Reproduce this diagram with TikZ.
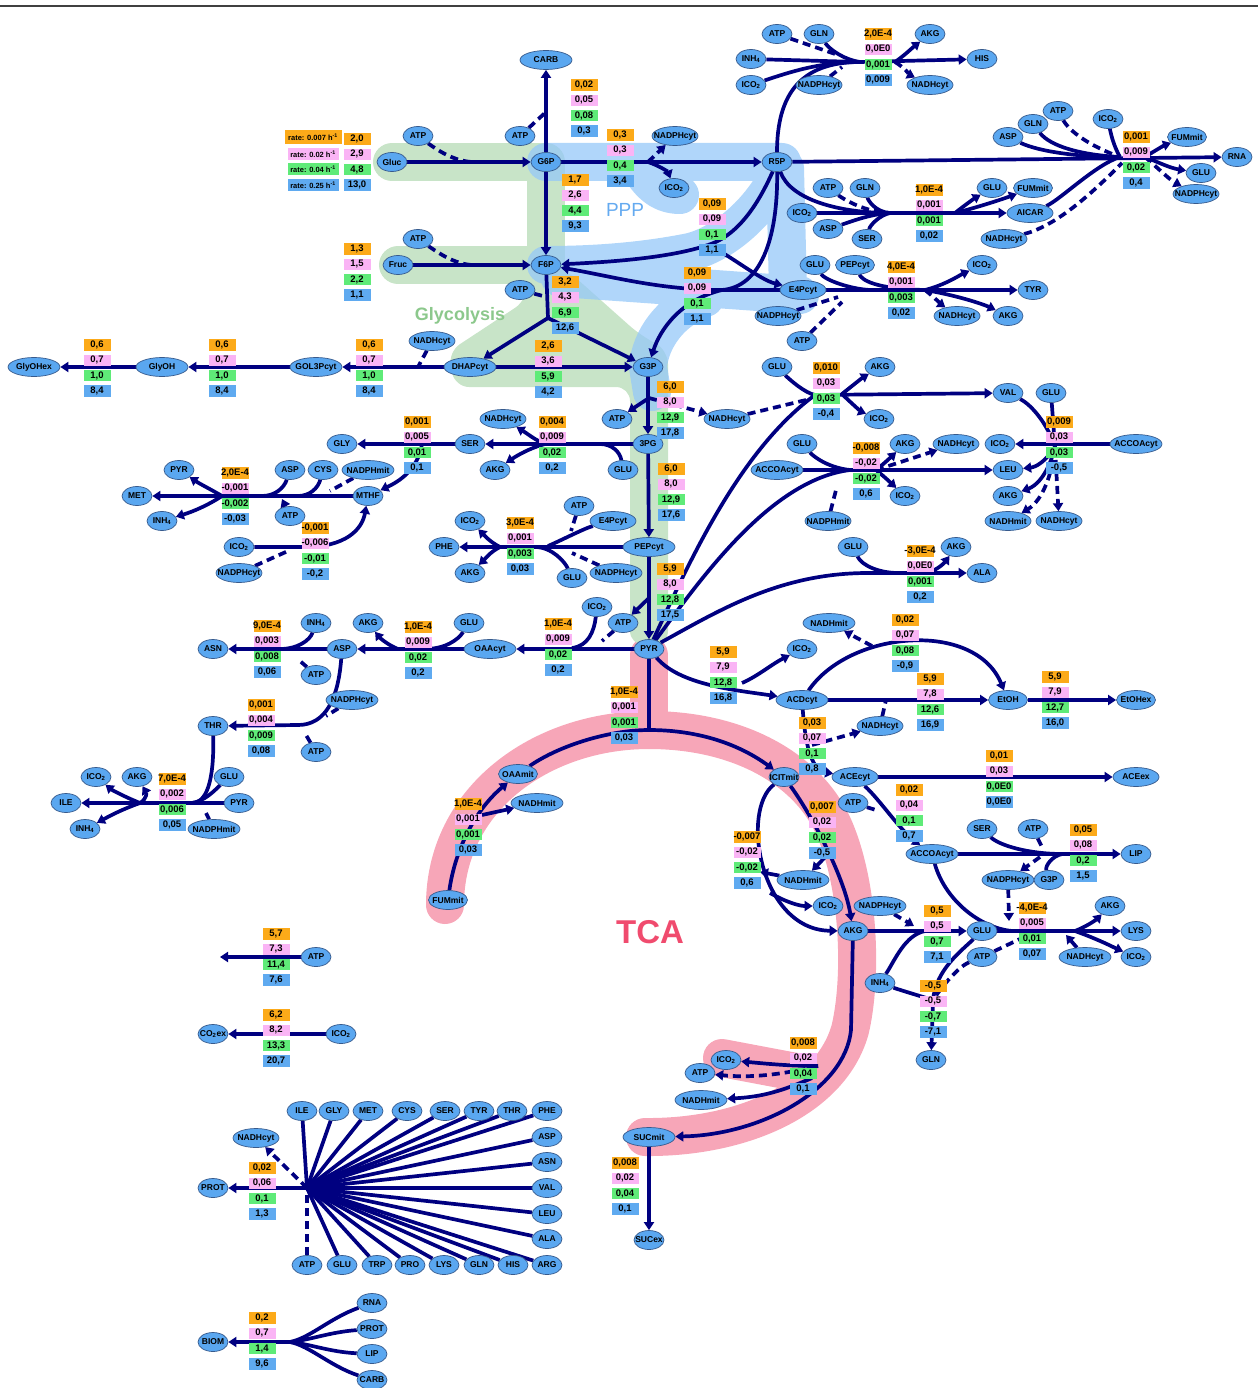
\documentclass[tikz,border=0pt]{standalone}
\usepackage{fontspec}
\setmainfont{Liberation Sans}
\usetikzlibrary{arrows.meta,shapes.geometric}
\definecolor{flx}{RGB}{0,0,128}
\definecolor{metf}{RGB}{90,167,240}
\definecolor{metb}{RGB}{55,90,140}
\definecolor{co}{RGB}{252,170,25}
\definecolor{cp}{RGB}{250,180,245}
\definecolor{cg}{RGB}{95,235,120}
\definecolor{cb}{RGB}{95,170,240}
\definecolor{gband}{RGB}{200,228,200}
\definecolor{bband}{RGB}{150,200,248}
\definecolor{pband}{RGB}{247,166,184}
\definecolor{gtext}{RGB}{140,200,140}
\definecolor{btext}{RGB}{100,170,240}
\definecolor{ptext}{RGB}{240,75,110}
\pgfdeclarelayer{bg}
\pgfdeclarelayer{edges}
\pgfsetlayers{bg,edges,main}
\tikzset{
 met/.style={ellipse,draw=metb,fill=metf,line width=0.7pt,minimum width=30pt,minimum height=19pt,inner sep=0pt,font=\bfseries\fontsize{8.5}{9}\selectfont},
 m4/.style={minimum width=39pt},
 m5/.style={minimum width=46pt},
 m6/.style={minimum width=52pt},
 vbox/.style={rectangle,minimum width=27pt,minimum height=11.5pt,inner sep=0pt,font=\bfseries\fontsize{9.5}{9.5}\selectfont},
 ratebox/.style={rectangle,minimum width=51pt,minimum height=12pt,inner sep=0pt,font=\bfseries\fontsize{7.5}{8}\selectfont},
 flux/.style={draw=flx,line width=3.7pt},
 fluxa/.style={flux,-{Triangle[length=8pt,width=10pt]}},
 fluxd/.style={flux,dash pattern=on 8pt off 5pt},
 fluxda/.style={fluxd,-{Triangle[length=8pt,width=10pt]}},
 band/.style={line width=38pt,line cap=round,line join=round},
}
\newcommand\mnode[5][]{\node[met,#1] (#2) at (#3,#4) {\makebox[0pt]{#5}};}
\newcommand\vstack[7]{%
 \node[vbox,fill=co] (#1a) at (#2,#3) {\makebox[0pt]{#4}};
 \node[vbox,fill=cp] (#1b) at (#2,#3+15.3) {\makebox[0pt]{#5}};
 \node[vbox,fill=cg] (#1c) at (#2,#3+30.6) {\makebox[0pt]{#6}};
 \node[vbox,fill=cb] (#1d) at (#2,#3+45.9) {\makebox[0pt]{#7}};}
\newcommand\ico{ICO\textsubscript{2}}
\newcommand\inh{INH\textsubscript{4}}
\begin{document}
\begin{tikzpicture}[x=1pt,y=-1pt]
\useasboundingbox (0,0) rectangle (1258,1388);
\draw[line width=2pt,black!75] (0,6) -- (1258,6);
% ---------------- background bands
\begin{pgfonlayer}{bg}
\draw[band,draw=pband] (649,655) -- (649,730);
\draw[band,draw=pband] (445,905) .. controls (445,800) and (540,730) .. (649,730) .. controls (740,730) and (810,770) .. (835,830) .. controls (860,890) and (862,980) .. (850,1030) .. controls (830,1100) and (740,1138) .. (645,1137);
\draw[band,draw=pband] (812,1075) -- (722,1058);
\draw[band,draw=gband] (392,162) -- (546,162) -- (546,265);
\draw[band,draw=gband] (398,265) -- (546,265);
\fill[gband,rounded corners=14pt] (527,270) -- (567,270) -- (640,335) -- (668,350) -- (668,645) -- (630,645) -- (630,387) -- (455,387) -- (448,352) -- (527,300) -- cycle;
\draw[band,draw=bband,opacity=.75] (546,162) -- (782,162)
 (640,168) .. controls (650,185) and (662,195) .. (680,195)
 (782,168) .. controls (760,215) and (720,245) .. (690,252) .. controls (640,262) and (590,265) .. (546,265)
 (560,278) -- (800,295)
 (785,168) -- (788,292)
 (705,298) .. controls (670,310) and (650,340) .. (648,367) -- (652,392);
\end{pgfonlayer}
\node[text=btext,font=\fontsize{19}{19}\selectfont] (tPPP) at (625,210) {PPP};
\node[text=gtext,font=\bfseries\fontsize{18}{18}\selectfont] (tGly) at (460,316) {Glycolysis};
\node[text=ptext,font=\bfseries\fontsize{33}{33}\selectfont] (tTCA) at (650,932) {TCA};
% ---------------- metabolites
\mnode[m6]{CARB}{546}{60}{CARB}
\mnode{ATPa}{418}{136}{ATP}
\mnode{ATPb}{520}{136}{ATP}
\mnode{Gluc}{392}{162}{Gluc}
\mnode{G6P}{546}{162}{G6P}
\mnode[m5]{NADPHa}{675}{136}{NADPHcyt}
\mnode{ICOa}{674}{188}{\ico}
\mnode{R5P}{777}{162}{R5P}
\mnode{ATPc}{418}{239}{ATP}
\mnode{Fruc}{398}{265}{Fruc}
\mnode{F6P}{546}{265}{F6P}
\mnode{ATPd}{520}{290}{ATP}
\mnode[m5]{E4Pa}{803}{290}{E4Pcyt}
\mnode[m5]{NADPHb}{778}{316}{NADPHcyt}
\mnode{ATPe}{802}{341}{ATP}
\mnode[m5]{NADHa}{432}{341}{NADHcyt}
\mnode[m6]{DHAP}{470}{367}{DHAPcyt}
\mnode{G3P}{648}{367}{G3P}
\mnode[m6]{GOL3P}{316}{367}{GOL3Pcyt}
\mnode[m6]{GlyOH}{162}{367}{GlyOH}
\mnode[m6]{GlyOHex}{34}{367}{GlyOHex}
\mnode{ATPf}{777}{34}{ATP}
\mnode{GLNa}{819}{34}{GLN}
\mnode{INHa}{751}{59}{\inh}
\mnode{ICOb}{751}{85}{\ico}
\mnode[m5]{NADPHc}{819}{85}{NADPHcyt}
\mnode{AKGa}{930}{34}{AKG}
\mnode{HIS}{982}{59}{HIS}
\mnode[m5]{NADHb}{930}{85}{NADHcyt}
\mnode{ATPg}{1058}{111}{ATP}
\mnode{GLNb}{1033}{124}{GLN}
\mnode{ASPa}{1008}{137}{ASP}
\mnode{ICOc}{1108}{119}{\ico}
\mnode[m4]{FUMa}{1187}{137}{FUMmit}
\mnode{RNAa}{1237}{157}{RNA}
\mnode{GLUa}{1201}{173}{GLU}
\mnode[m5]{NADPHd}{1196}{194}{NADPHcyt}
\mnode{ATPh}{828}{188}{ATP}
\mnode{GLNc}{865}{188}{GLN}
\mnode{ICOd}{802}{213}{\ico}
\mnode{ASPb}{828}{229}{ASP}
\mnode{SERa}{867}{239}{SER}
\mnode{GLUb}{992}{188}{GLU}
\mnode[m4]{FUMb}{1033}{188}{FUMmit}
\mnode[m5]{AICAR}{1030}{213}{AICAR}
\mnode[m5]{NADHc}{1004}{239}{NADHcyt}
\mnode{GLUc}{815}{265}{GLU}
\mnode[m4]{PEPa}{855}{265}{PEPcyt}
\mnode{ICOe}{982}{265}{\ico}
\mnode{TYR}{1033}{290}{TYR}
\mnode[m5]{NADHd}{957}{316}{NADHcyt}
\mnode{AKGb}{1008}{316}{AKG}
\mnode{GLUd}{777}{367}{GLU}
\mnode{AKGc}{880}{367}{AKG}
\mnode{ICOf}{879}{419}{\ico}
\mnode{VAL}{1008}{393}{VAL}
\mnode{GLUe}{1051}{393}{GLU}
\mnode{ICOg}{1000}{444}{\ico}
\mnode[m6]{ACCOAa}{1136}{444}{ACCOAcyt}
\mnode{LEU}{1008}{470}{LEU}
\mnode{AKGd}{1008}{496}{AKG}
\mnode[m5]{NADHmA}{1008}{521}{NADHmit}
\mnode[m5]{NADHe}{1059}{521}{NADHcyt}
\mnode{GLUf}{802}{444}{GLU}
\mnode[m6]{ACCOAb}{777}{470}{ACCOAcyt}
\mnode[m5]{NADPHmA}{828}{521}{NADPHmit}
\mnode{AKGe}{905}{444}{AKG}
\mnode[m5]{NADHf}{956}{444}{NADHcyt}
\mnode{ICOh}{905}{496}{\ico}
\mnode{ATPi}{617}{419}{ATP}
\mnode[m5]{NADHg}{727}{419}{NADHcyt}
\mnode{PG3}{648}{444}{3PG}
\mnode{SERb}{470}{444}{SER}
\mnode{GLYa}{342}{444}{GLY}
\mnode[m5]{NADHh}{503}{419}{NADHcyt}
\mnode{AKGf}{495}{470}{AKG}
\mnode{GLUg}{623}{470}{GLU}
\mnode{PYRa}{179}{470}{PYR}
\mnode{ASPc}{290}{470}{ASP}
\mnode{CYSa}{323}{470}{CYS}
\mnode[m6]{NADPHmB}{368}{470}{NADPHmit}
\mnode{METa}{137}{496}{MET}
\mnode{MTHF}{368}{496}{MTHF}
\mnode{INHb}{162}{521}{\inh}
\mnode{ATPj}{290}{516}{ATP}
\mnode{ICOi}{239}{547}{\ico}
\mnode[m5]{NADPHe}{239}{573}{NADPHcyt}
\mnode{ATPk}{579}{506}{ATP}
\mnode[m5]{E4Pb}{613}{521}{E4Pcyt}
\mnode{ICOj}{470}{521}{\ico}
\mnode{PHE}{444}{547}{PHE}
\mnode{AKGg}{470}{573}{AKG}
\mnode{GLUh}{572}{578}{GLU}
\mnode[m6]{NADPHf}{616}{573}{NADPHcyt}
\mnode[m6]{PEPb}{649}{547}{PEPcyt}
\mnode{GLUi}{853}{547}{GLU}
\mnode{AKGh}{956}{547}{AKG}
\mnode{ALA}{982}{573}{ALA}
\mnode{ICOk}{597}{607}{\ico}
\mnode{ATPl}{623}{623}{ATP}
\mnode{PYR}{649}{649}{PYR}
\mnode[m6]{OAAcyt}{490}{649}{OAAcyt}
\mnode{GLUj}{469}{623}{GLU}
\mnode{ASPd}{342}{649}{ASP}
\mnode{AKGi}{368}{623}{AKG}
\mnode{INHc}{316}{623}{\inh}
\mnode{ASN}{213}{649}{ASN}
\mnode{ATPm}{316}{675}{ATP}
\mnode[m6]{NADPHg}{352}{700}{NADPHcyt}
\mnode{THR}{213}{726}{THR}
\mnode{ATPn}{316}{752}{ATP}
\mnode{ICOl}{96}{777}{\ico}
\mnode{AKGj}{137}{777}{AKG}
\mnode{GLUk}{229}{777}{GLU}
\mnode{ILE}{66}{803}{ILE}
\mnode{PYRb}{239}{803}{PYR}
\mnode{INHd}{85}{829}{\inh}
\mnode[m6]{NADPHmC}{214}{829}{NADPHmit}
\mnode[m6]{NADHmB}{829}{623}{NADHmit}
\mnode{ICOm}{802}{649}{\ico}
\mnode[m6]{ACD}{802}{700}{ACDcyt}
\mnode[m4]{EtOH}{1008}{700}{EtOH}
\mnode[m4]{EtOHex}{1136}{700}{EtOHex}
\mnode[m5]{NADHi}{880}{726}{NADHcyt}
\mnode[m5]{ACE}{855}{777}{ACEcyt}
\mnode[m5]{ACEex}{1136}{777}{ACEex}
\mnode{ICIT}{784}{777}{ICITmit}
\mnode{ATPo}{853}{803}{ATP}
\mnode{SERc}{982}{829}{SER}
\mnode{ATPp}{1033}{829}{ATP}
\mnode{LIPa}{1136}{854}{LIP}
\mnode[m6]{ACCOAc}{932}{854}{ACCOAcyt}
\mnode[m6]{NADPHh}{1008}{880}{NADPHcyt}
\mnode{G3Pb}{1049}{880}{G3P}
\mnode[m6]{NADHmC}{803}{880}{NADHmit}
\mnode{ICOn}{828}{906}{\ico}
\mnode[m6]{NADPHi}{880}{906}{NADPHcyt}
\mnode{AKGk}{853}{931}{AKG}
\mnode{GLUl}{982}{931}{GLU}
\mnode{AKGl}{1110}{906}{AKG}
\mnode{LYSa}{1136}{931}{LYS}
\mnode[m6]{NADHj}{1085}{957}{NADHcyt}
\mnode{ICOo}{1136}{957}{\ico}
\mnode{ATPq}{982}{957}{ATP}
\mnode{INHe}{880}{983}{\inh}
\mnode{GLNd}{931}{1060}{GLN}
\mnode[m4]{OAAmit}{518}{774}{OAAmit}
\mnode[m6]{NADHmD}{537}{803}{NADHmit}
\mnode[m4]{FUMc}{448}{900}{FUMmit}
\mnode{ICOp}{726}{1060}{\ico}
\mnode{ATPr}{700}{1073}{ATP}
\mnode[m6]{NADHmE}{701}{1100}{NADHmit}
\mnode[m6]{SUCmit}{649}{1137}{SUCmit}
\mnode{SUCex}{649}{1240}{SUCex}
\mnode{ATPs}{316}{957}{ATP}
\mnode{ICOq}{341}{1034}{\ico}
\mnode{CO2ex}{213}{1034}{CO\textsubscript{2}ex}
% protein
\mnode{pILE}{302}{1111}{ILE}
\mnode{pGLY}{334}{1111}{GLY}
\mnode{pMET}{368}{1111}{MET}
\mnode{pCYS}{407}{1111}{CYS}
\mnode{pSER}{445}{1111}{SER}
\mnode{pTYR}{479}{1111}{TYR}
\mnode{pTHR}{512}{1111}{THR}
\mnode{pPHE}{547}{1111}{PHE}
\mnode{pASP}{547}{1137}{ASP}
\mnode{pASN}{547}{1162}{ASN}
\mnode{pVAL}{547}{1188}{VAL}
\mnode{pLEU}{547}{1214}{LEU}
\mnode{pALA}{547}{1239}{ALA}
\mnode{pARG}{547}{1265}{ARG}
\mnode{pHIS}{513}{1265}{HIS}
\mnode{pGLN}{479}{1265}{GLN}
\mnode{pLYS}{444}{1265}{LYS}
\mnode{pPRO}{410}{1265}{PRO}
\mnode{pTRP}{377}{1265}{TRP}
\mnode{pGLU}{342}{1265}{GLU}
\mnode{pATP}{307}{1265}{ATP}
\mnode[m5]{NADHk}{256}{1138}{NADHcyt}
\mnode{PROTa}{213}{1188}{PROT}
\mnode{BIOM}{213}{1342}{BIOM}
\mnode{bRNA}{372}{1303}{RNA}
\mnode{bPROT}{372}{1329}{PROT}
\mnode{bLIP}{372}{1354}{LIP}
\mnode{bCARB}{372}{1380}{CARB}
% ---------------- value boxes
\node[ratebox,fill=co,minimum width=57pt,minimum height=14pt] (rA) at (313,137) {rate: 0.007 h\textsuperscript{-1}};
\node[ratebox,fill=cp] (rB) at (313,154) {rate: 0.02 h\textsuperscript{-1}};
\node[ratebox,fill=cg] (rC) at (313,169) {rate: 0.04 h\textsuperscript{-1}};
\node[ratebox,fill=cb] (rD) at (313,185) {rate: 0.25 h\textsuperscript{-1}};
\vstack{sA}{584}{85}{0,02}{0,05}{0,08}{0,3}
\vstack{sB}{357}{139}{2,0}{2,9}{4,8}{13,0}
\vstack{sC}{620}{135}{0,3}{0,3}{0,4}{3,4}
\vstack{sD}{575}{180}{1,7}{2,6}{4,4}{9,3}
\vstack{sE}{712}{204}{0,09}{0,09}{0,1}{1,1}
\vstack{sF}{357}{249}{1,3}{1,5}{2,2}{1,1}
\vstack{sG}{697}{273}{0,09}{0,09}{0,1}{1,1}
\vstack{sH}{565}{282}{3,2}{4,3}{6,9}{12,6}
\vstack{sI}{548}{346}{2,6}{3,6}{5,9}{4,2}
\vstack{sJ}{97}{345}{0,6}{0,7}{1,0}{8,4}
\vstack{sK}{222}{345}{0,6}{0,7}{1,0}{8,4}
\vstack{sL}{369}{345}{0,6}{0,7}{1,0}{8,4}
\vstack{sM}{878}{34}{2,0E-4}{0,0E0}{0,001}{0,009}
\vstack{sN}{1136}{137}{0,001}{0,009}{0,02}{0,4}
\vstack{sO}{929}{190}{1,0E-4}{0,001}{0,001}{0,02}
\vstack{sP}{901}{267}{4,0E-4}{0,001}{0,003}{0,02}
\vstack{sQ}{826}{368}{0,010}{0,03}{0,03}{-0,4}
\vstack{sR}{1059}{422}{0,009}{0,03}{0,03}{-0,5}
\vstack{sS}{670}{387}{6,0}{8,0}{12,9}{17,8}
\vstack{sT}{552}{422}{0,004}{0,009}{0,02}{0,2}
\vstack{sU}{417}{422}{0,001}{0,005}{0,01}{0,1}
\vstack{sV}{866}{448}{-0,008}{-0,02}{-0,02}{0,6}
\vstack{sW}{235}{473}{2,0E-4}{-0,001}{-0,002}{-0,03}
\vstack{sX}{315}{528}{-0,001}{-0,006}{-0,01}{-0,2}
\vstack{sY}{671}{469}{6,0}{8,0}{12,9}{17,6}
\vstack{sZ}{520}{523}{3,0E-4}{0,001}{0,003}{0,03}
\vstack{tA}{920}{551}{-3,0E-4}{0,0E0}{0,001}{0,2}
\vstack{tB}{670}{569}{5,9}{8,0}{12,8}{17,5}
\vstack{tC}{558}{624}{1,0E-4}{0,009}{0,02}{0,2}
\vstack{tD}{418}{627}{1,0E-4}{0,009}{0,02}{0,2}
\vstack{tE}{267}{626}{9,0E-4}{0,003}{0,008}{0,06}
\vstack{tF}{261}{705}{0,001}{0,004}{0,009}{0,08}
\vstack{tG}{172}{779}{7,0E-4}{0,002}{0,006}{0,05}
\vstack{tH}{905}{620}{0,02}{0,07}{0,08}{-0,9}
\vstack{tI}{723}{652}{5,9}{7,9}{12,8}{16,8}
\vstack{tJ}{930}{679}{5,9}{7,8}{12,6}{16,9}
\vstack{tK}{1055}{677}{5,9}{7,9}{12,7}{16,0}
\vstack{tL}{812}{723}{0,03}{0,07}{0,1}{0,8}
\vstack{tM}{999}{756}{0,01}{0,03}{0,0E0}{0,0E0}
\vstack{tN}{909}{790}{0,02}{0,04}{0,1}{0,7}
\vstack{tO}{1083}{830}{0,05}{0,08}{0,2}{1,5}
\vstack{tP}{822}{807}{0,007}{0,02}{0,02}{-0,5}
\vstack{tQ}{747}{837}{-0,007}{-0,02}{-0,02}{0,6}
\vstack{tR}{937}{911}{0,5}{0,5}{0,7}{7,1}
\vstack{tS}{1032}{908}{-4,0E-4}{0,005}{0,01}{0,07}
\vstack{tT}{933}{986}{-0,5}{-0,5}{-0,7}{-7,1}
\vstack{tU}{468}{804}{1,0E-4}{0,001}{0,001}{0,03}
\vstack{tV}{624}{692}{1,0E-4}{0,001}{0,001}{0,03}
\vstack{tW}{276}{934}{5,7}{7,3}{11,4}{7,6}
\vstack{tX}{276}{1015}{6,2}{8,2}{13,3}{20,7}
\vstack{tY}{803}{1043}{0,008}{0,02}{0,04}{0,1}
\vstack{tZ}{625}{1163}{0,008}{0,02}{0,04}{0,1}
\vstack{uA}{262}{1168}{0,02}{0,06}{0,1}{1,3}
\vstack{uB}{262}{1318}{0,2}{0,7}{1,4}{9,6}
% ---------------- junction coordinates
\coordinate (jGl) at (472,162);
\coordinate (jCa) at (546,112);
\coordinate (jPb) at (648,162);
\coordinate (jFr) at (472,265);
\coordinate (jF) at (548,318);
\coordinate (jAd) at (543,296);
\coordinate (jGo) at (418,367);
\coordinate (jG3) at (649,398);
\coordinate (jS1) at (600,444);
\coordinate (jS2) at (545,444);
\coordinate (jS3) at (422,444);
\coordinate (jM1) at (262,496);
\coordinate (jM2) at (298,496);
\coordinate (jM3) at (222,496);
\coordinate (jM4) at (330,491);
\coordinate (jM5) at (282,499);
\coordinate (jMt) at (305,547);
\coordinate (jMu) at (288,551);
\coordinate (jP1) at (500,547);
\coordinate (jP2) at (548,546);
\coordinate (jP3) at (571,531);
\coordinate (jP4) at (535,547);
\coordinate (jP5) at (572,553);
\coordinate (jY1) at (649,598);
\coordinate (jO1) at (572,648);
\coordinate (jO2) at (602,641);
\coordinate (jA1) at (425,649);
\coordinate (jA2) at (398,649);
\coordinate (jN1) at (280,649);
\coordinate (jN2) at (300,661);
\coordinate (jT1) at (298,725);
\coordinate (jT2) at (326,716);
\coordinate (jT3) at (306,735);
\coordinate (jI1) at (192,803);
\coordinate (jI2) at (206,813);
\coordinate (jI3) at (140,803);
\coordinate (jV) at (815,395);
\coordinate (jV2) at (842,394);
\coordinate (jV3) at (806,400);
\coordinate (jL) at (850,470);
\coordinate (jL2) at (836,490);
\coordinate (jL3) at (876,470);
\coordinate (jR) at (1055,447);
\coordinate (jAl) at (868,573);
\coordinate (jAl2) at (898,573);
\coordinate (jAl3) at (930,572);
\coordinate (jAc2) at (742,683);
\coordinate (jEt) at (886,700);
\coordinate (jEt2) at (872,646);
\coordinate (jAE) at (812,745);
\coordinate (jAT) at (876,810);
\coordinate (jLi) at (1062,854);
\coordinate (jLi2) at (1042,847);
\coordinate (jLi3) at (1040,857);
\coordinate (jK) at (1012,931);
\coordinate (jK2) at (1009,921);
\coordinate (jK3) at (1075,931);
\coordinate (jK4) at (1066,935);
\coordinate (jK5) at (1022,938);
\coordinate (jG1) at (925,931);
\coordinate (jG2) at (914,926);
\coordinate (jQ) at (933,1000);
\coordinate (jT) at (649,730);
\coordinate (jF1) at (482,815);
\coordinate (jK1) at (832,850);
\coordinate (jK6) at (760,872);
\coordinate (jK7) at (770,893);
\coordinate (jU0) at (851,1030);
\coordinate (jU2) at (818,1066);
\coordinate (jU3) at (812,1078);
\coordinate (aE) at (220,957);
\coordinate (hP) at (307,1188);
\coordinate (hB) at (290,1342);
\coordinate (jH) at (860,62);
\coordinate (jH1) at (838,55);
\coordinate (jH2) at (842,67);
\coordinate (jH3) at (895,62);
\coordinate (jR1) at (1120,157);
\coordinate (jR1b) at (1122,163);
\coordinate (jR2) at (1145,157);
\coordinate (jAI) at (890,213);
\coordinate (jAI2) at (955,213);
\coordinate (jY) at (870,290);
\coordinate (jY3) at (838,297);
\coordinate (jY4) at (842,302);
\coordinate (jY5) at (925,290);
\coordinate (J1) at (708,245);
\coordinate (J2) at (722,290);
% ---------------- fluxes
\begin{pgfonlayer}{edges}
% glycolysis
\draw[fluxa] (Gluc) -- (G6P);
\draw[fluxd] (ATPa) .. controls (440,152) and (455,161) .. (jGl);
\draw[fluxa] (G6P) -- (CARB);
\draw[fluxd] (ATPb) -- (jCa);
\draw[fluxa] (G6P) -- (F6P);
\draw[fluxa] (G6P) -- (R5P);
\draw[fluxda] (jPb) -- (NADPHa);
\draw[fluxa] (jPb) .. controls (660,166) and (668,172) .. (ICOa);
\draw[fluxa] (Fruc) -- (F6P);
\draw[fluxd] (ATPc) .. controls (440,254) and (455,264) .. (jFr);
\draw[flux] (F6P) -- (jF);
\draw[fluxd] (ATPd) -- (jAd);
\draw[fluxa] (jF) -- (DHAP);
\draw[fluxa] (jF) -- (G3P);
\draw[fluxa] (DHAP) -- (G3P);
\draw[fluxa] (DHAP) -- (GOL3P);
\draw[fluxd] (NADHa) -- (jGo);
\draw[fluxa] (GOL3P) -- (GlyOH);
\draw[fluxa] (GlyOH) -- (GlyOHex);
\draw[fluxa] (G3P) -- (PG3);
\draw[fluxa] (jG3) -- (ATPi);
\draw[fluxda] (jG3) -- (NADHg);
\draw[fluxa] (PG3) -- (SERb);
\draw[flux] (GLUg) .. controls (620,452) and (612,444) .. (jS1);
\draw[fluxa] (jS2) .. controls (535,440) and (528,434) .. (NADHh);
\draw[fluxa] (jS2) .. controls (530,448) and (518,455) .. (AKGf);
\draw[fluxa] (SERb) -- (GLYa);
\draw[fluxa] (jS3) .. controls (418,470) and (398,482) .. (MTHF);
% MET
\draw[fluxa] (MTHF) -- (METa);
\draw[flux] (ASPc) .. controls (284,488) and (275,496) .. (jM1);
\draw[flux] (CYSa) .. controls (318,488) and (310,496) .. (jM2);
\draw[fluxd] (NADPHmB) -- (jM4);
\draw[fluxa] (ATPj) -- (jM5);
\draw[fluxa] (jM3) .. controls (212,490) and (200,484) .. (PYRa);
\draw[fluxa] (jM3) .. controls (210,504) and (195,511) .. (INHb);
\draw[fluxa] (ICOi) -- (jMt) .. controls (345,547) and (362,530) .. (MTHF);
\draw[fluxd] (NADPHe) -- (jMu);
% PEP, PHE
\draw[fluxa] (PG3) -- (PEPb);
\draw[fluxa] (PEPb) -- (PHE);
\draw[fluxa] (jP1) .. controls (490,542) and (484,535) .. (ICOj);
\draw[fluxa] (jP1) .. controls (490,552) and (484,560) .. (AKGg);
\draw[flux] (E4Pb) .. controls (585,528) and (562,540) .. (jP2);
\draw[fluxd] (ATPk) -- (jP3);
\draw[flux] (GLUh) .. controls (565,562) and (552,547) .. (jP4);
\draw[fluxd] (NADPHf) -- (jP5);
% PYR
\draw[fluxa] (PEPb) -- (PYR);
\draw[fluxa] (jY1) -- (ATPl);
\draw[fluxa] (PYR) -- (OAAcyt);
\draw[flux] (ICOk) .. controls (594,632) and (588,646) .. (jO1);
\draw[fluxd] (ATPl) -- (jO2);
\draw[fluxa] (OAAcyt) -- (ASPd);
\draw[flux] (GLUj) .. controls (458,640) and (445,649) .. (jA1);
\draw[fluxa] (jA2) .. controls (388,645) and (380,638) .. (AKGi);
\draw[fluxa] (ASPd) -- (ASN);
\draw[flux] (INHc) .. controls (310,640) and (298,649) .. (jN1);
\draw[fluxd] (ATPm) -- (jN2);
\draw[fluxa] (ASPd) .. controls (338,700) and (325,725) .. (jT1) -- (THR);
\draw[fluxd] (NADPHg) -- (jT2);
\draw[fluxd] (ATPn) -- (jT3);
\draw[flux] (THR) .. controls (214,770) and (210,803) .. (jI1);
\draw[fluxa] (jI1) -- (ILE);
\draw[flux] (PYRb) -- (jI1);
\draw[flux] (GLUk) .. controls (215,790) and (205,801) .. (jI1);
\draw[fluxd] (NADPHmC) -- (jI2);
\draw[fluxa] (jI3) .. controls (125,797) and (112,790) .. (ICOl);
\draw[fluxa] (jI3) .. controls (148,798) and (146,792) .. (AKGj);
\draw[fluxa] (jI3) .. controls (120,810) and (106,818) .. (INHd);
% VAL
\draw[flux] (PYR) .. controls (690,560) and (740,450) .. (jV);
\draw[fluxa] (jV) -- (VAL);
\draw[flux] (GLUd) .. controls (790,380) and (805,393) .. (jV);
\draw[fluxa] (jV2) .. controls (852,386) and (862,378) .. (AKGc);
\draw[fluxa] (jV2) .. controls (852,404) and (862,412) .. (ICOf);
\draw[fluxd] (jV3) -- (NADHg);
% LEU
\draw[flux] (PYR) .. controls (700,580) and (770,480) .. (jL);
\draw[flux] (ACCOAb) -- (jL);
\draw[fluxa] (jL) -- (LEU);
\draw[flux] (GLUf) .. controls (815,458) and (830,468) .. (jL);
\draw[fluxd] (NADPHmA) -- (jL2);
\draw[fluxa] (jL3) .. controls (886,462) and (892,456) .. (AKGe);
\draw[fluxda] (jL3) -- (NADHf);
\draw[fluxa] (jL3) .. controls (886,478) and (893,485) .. (ICOh);
\draw[fluxa] (ACCOAa) -- (ICOg);
\draw[flux] (VAL) .. controls (1032,405) and (1048,425) .. (jR);
\draw[flux] (GLUe) -- (jR);
\draw[fluxa] (jR) .. controls (1045,462) and (1036,467) .. (LEU);
\draw[fluxa] (jR) .. controls (1048,475) and (1036,486) .. (AKGd);
\draw[fluxda] (jR) .. controls (1050,490) and (1035,505) .. (NADHmA);
\draw[fluxda] (jR) -- (NADHe);
% ALA
\draw[flux] (PYR) .. controls (720,610) and (780,573) .. (jAl);
\draw[fluxa] (jAl) -- (ALA);
\draw[flux] (GLUi) .. controls (862,566) and (880,573) .. (jAl2);
\draw[fluxa] (jAl3) .. controls (940,568) and (945,562) .. (AKGh);
% ACD, EtOH, ACE
\draw[fluxa] (PYR) .. controls (680,685) and (735,690) .. (ACD);
\draw[fluxa] (jAc2) .. controls (758,676) and (772,664) .. (ICOm);
\draw[fluxa] (ACD) -- (EtOH);
\draw[fluxd] (NADHi) -- (jEt);
\draw[fluxa] (EtOH) -- (EtOHex);
\draw[fluxa] (ACD) .. controls (850,630) and (975,620) .. (EtOH);
\draw[fluxda] (jEt2) -- (NADHmB);
\draw[fluxa] (ACD) .. controls (805,740) and (810,770) .. (ACE);
\draw[fluxda] (jAE) -- (NADHi);
\draw[fluxa] (ACE) -- (ACEex);
\draw[fluxa] (ACE) .. controls (880,800) and (900,830) .. (ACCOAc);
\draw[fluxd] (ATPo) -- (jAT);
% LIP
\draw[fluxa] (ACCOAc) -- (LIPa);
\draw[flux] (SERc) .. controls (1000,846) and (1030,854) .. (jLi);
\draw[fluxd] (ATPp) -- (jLi2);
\draw[fluxda] (jLi3) -- (NADPHh);
\draw[flux] (G3Pb) .. controls (1045,866) and (1052,856) .. (jLi);
% LYS, GLU, GLN
\draw[flux] (ACCOAc) .. controls (945,900) and (980,928) .. (jK);
\draw[fluxa] (GLUl) -- (LYSa);
\draw[fluxda] (NADPHh) -- (jK2);
\draw[fluxa] (jK3) .. controls (1090,925) and (1098,918) .. (AKGl);
\draw[fluxa] (jK3) .. controls (1100,940) and (1115,948) .. (ICOo);
\draw[fluxa] (NADHj) -- (jK4);
\draw[fluxd] (ATPq) -- (jK5);
\draw[fluxa] (AKGk) -- (GLUl);
\draw[fluxda] (NADPHi) -- (jG2);
\draw[flux] (INHe) .. controls (895,960) and (905,935) .. (jG1);
\draw[flux] (GLUl) .. controls (960,952) and (936,970) .. (jQ);
\draw[fluxa] (jQ) -- (GLNd);
\draw[flux] (INHe) .. controls (900,990) and (920,996) .. (jQ);
\draw[fluxd] (ATPq) .. controls (960,966) and (945,982) .. (jQ);
% TCA
\draw[flux] (PYR) -- (jT);
\draw[flux] (OAAmit) .. controls (560,745) and (610,730) .. (jT);
\draw[fluxa] (jT) .. controls (700,730) and (740,745) .. (ICIT);
\draw[fluxa] (FUMc) .. controls (455,850) and (475,810) .. (OAAmit);
\draw[fluxa] (jF1) -- (NADHmD);
\draw[fluxa] (ICIT) .. controls (815,820) and (845,880) .. (AKGk);
\draw[fluxa] (jK1) -- (NADHmC);
\draw[fluxa] (ICIT) .. controls (740,810) and (760,930) .. (AKGk);
\draw[fluxa] (NADHmC) -- (jK6);
\draw[fluxa] (jK7) .. controls (788,903) and (800,906) .. (ICOn);
\draw[fluxa] (AKGk) -- (jU0) .. controls (845,1090) and (760,1135) .. (SUCmit);
\draw[fluxa] (jU2) .. controls (790,1066) and (770,1064) .. (ICOp);
\draw[fluxda] (jU2) .. controls (780,1075) and (750,1078) .. (ATPr);
\draw[fluxa] (jU3) .. controls (780,1092) and (760,1097) .. (NADHmE);
\draw[fluxa] (SUCmit) -- (SUCex);
\draw[fluxa] (ATPs) -- (aE);
\draw[fluxa] (ICOq) -- (CO2ex);
% PROT
\draw[fluxa] (hP) -- (PROTa);
\foreach \n in {pILE,pGLY,pMET,pCYS,pSER,pTYR,pTHR,pPHE,pASP,pASN,pVAL,pLEU,pALA,pARG,pHIS,pGLN,pLYS,pPRO,pTRP,pGLU}
  \draw[flux] (\n) -- (hP);
\draw[fluxd] (pATP) -- (hP);
\draw[fluxda] (hP) -- (NADHk);
% BIOM
\draw[fluxa] (hB) -- (BIOM);
\draw[flux] (bRNA) .. controls (330,1318) and (310,1338) .. (hB);
\draw[flux] (bPROT) .. controls (330,1332) and (310,1340) .. (hB);
\draw[flux] (bLIP) .. controls (330,1352) and (310,1344) .. (hB);
\draw[flux] (bCARB) .. controls (330,1366) and (310,1346) .. (hB);
% HIS
\draw[flux] (R5P) .. controls (777,95) and (800,62) .. (jH);
\draw[fluxa] (jH) -- (HIS);
\draw[flux] (INHa) -- (jH);
\draw[flux] (ICOb) .. controls (790,72) and (820,62) .. (jH);
\draw[fluxd] (ATPf) -- (jH1);
\draw[flux] (GLNa) .. controls (830,50) and (845,60) .. (jH);
\draw[fluxd] (NADPHc) -- (jH2);
\draw[fluxa] (jH3) .. controls (905,55) and (912,48) .. (AKGa);
\draw[fluxda] (jH3) .. controls (905,68) and (910,75) .. (NADHb);
% RNA
\draw[fluxa] (R5P) -- (RNAa);
\draw[flux] (ASPa) .. controls (1040,152) and (1080,157) .. (jR1);
\draw[flux] (GLNb) .. controls (1050,146) and (1080,155) .. (jR1);
\draw[fluxd] (ATPg) .. controls (1070,132) and (1090,146) .. (jR1);
\draw[flux] (ICOc) .. controls (1112,140) and (1116,150) .. (jR1);
\draw[fluxa] (jR2) .. controls (1156,150) and (1165,145) .. (FUMa);
\draw[fluxa] (jR2) .. controls (1160,163) and (1170,168) .. (GLUa);
\draw[fluxda] (jR2) .. controls (1160,170) and (1170,180) .. (NADPHd);
\draw[flux] (AICAR) .. controls (1060,200) and (1095,165) .. (jR1);
\draw[fluxd] (NADHc) .. controls (1060,225) and (1100,185) .. (jR1b);
% AICAR
\draw[flux] (R5P) .. controls (790,200) and (840,213) .. (jAI);
\draw[fluxa] (jAI) -- (AICAR);
\draw[fluxd] (ATPh) .. controls (845,200) and (865,212) .. (jAI);
\draw[flux] (GLNc) .. controls (868,200) and (875,212) .. (jAI);
\draw[flux] (ICOd) -- (jAI);
\draw[flux] (ASPb) .. controls (850,222) and (870,214) .. (jAI);
\draw[flux] (SERa) .. controls (870,225) and (880,215) .. (jAI);
\draw[fluxa] (jAI2) .. controls (965,205) and (975,198) .. (GLUb);
\draw[fluxa] (jAI2) .. controls (975,208) and (1000,200) .. (FUMb);
% TYR
\draw[fluxa] (E4Pa) -- (TYR);
\draw[flux] (GLUc) .. controls (825,280) and (850,289) .. (jY);
\draw[flux] (PEPa) .. controls (862,280) and (875,289) .. (jY5);
\draw[fluxd] (NADPHb) -- (jY3);
\draw[fluxd] (ATPe) -- (jY4);
\draw[fluxa] (jY5) .. controls (945,285) and (960,275) .. (ICOe);
\draw[fluxda] (jY5) .. controls (935,298) and (942,305) .. (NADHd);
\draw[fluxa] (jY5) .. controls (960,296) and (985,305) .. (AKGb);
% PPP
\draw[flux] (R5P) .. controls (760,200) and (740,235) .. (J1);
\draw[fluxa] (J1) .. controls (670,258) and (610,262) .. (F6P);
\draw[fluxa] (J1) .. controls (730,255) and (760,280) .. (E4Pa);
\draw[flux] (R5P) .. controls (778,240) and (760,287) .. (J2);
\draw[flux] (E4Pa) -- (J2);
\draw[fluxa] (J2) .. controls (660,290) and (610,276) .. (F6P);
\draw[fluxa] (J2) .. controls (680,300) and (660,330) .. (G3P);
\end{pgfonlayer}
\end{tikzpicture}
\end{document}
